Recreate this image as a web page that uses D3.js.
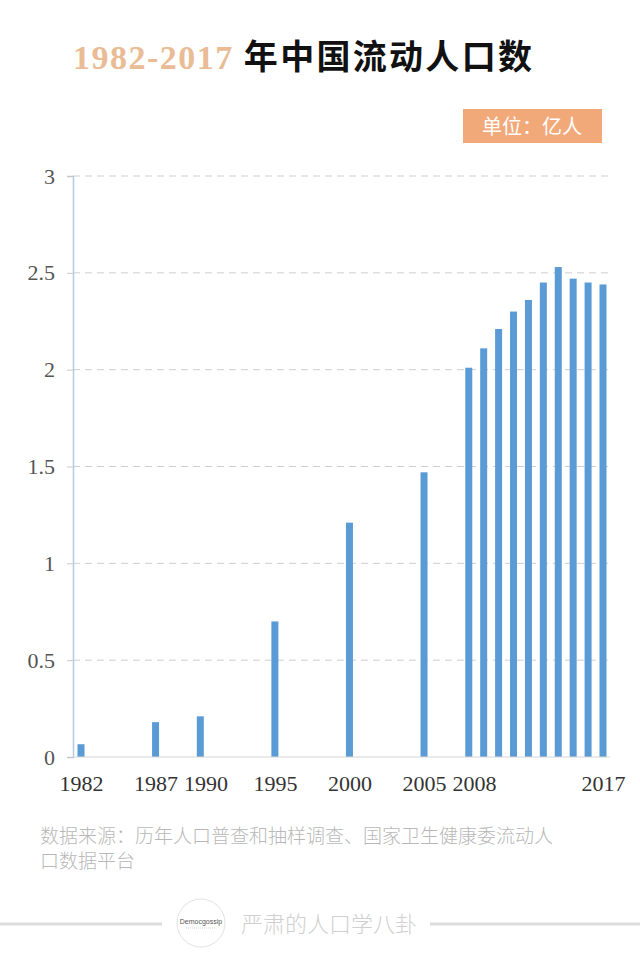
<!DOCTYPE html>
<html>
<head>
<meta charset="utf-8">
<script src="https://cdn.jsdelivr.net/npm/d3@7"></script>
<style>
  body { margin: 0; background: #ffffff; }
  svg { display: block; }
</style>
</head>
<body>
<svg></svg>
<script>
// Data
let years = [1982, 1987, 1990, 1995, 2000, 2005, 2008, 2009, 2010, 2011, 2012, 2013, 2014, 2015, 2016, 2017];
let values = [0.066, 0.18, 0.21, 0.70, 1.21, 1.47, 2.01, 2.11, 2.21, 2.30, 2.36, 2.45, 2.53, 2.47, 2.45, 2.44];
let yTicks = [0, 0.5, 1, 1.5, 2, 2.5, 3];
let xLabels = [1982, 1987, 1990, 1995, 2000, 2005, 2008, 2017];

let titleYears = "1982-2017";
let titleText = "年中国流动人口数";
let unitText = "单位：亿人";
let sourceLines = ["数据来源：历年人口普查和抽样调查、国家卫生健康委流动人", "口数据平台"];
let brandText = "严肃的人口学八卦";

let width = 640;
let height = 960;

let svg = d3.select("svg").attr("width", width).attr("height", height);

let xScale = d3.scaleLinear().domain([1982, 2017]).range([81, 603]);
let yScale = d3.scaleLinear().domain([0, 3]).range([757, 176]);

// Title
let title = svg.append("text")
  .attr("x", 73)
  .attr("y", 69);
title.append("tspan")
  .text(titleYears)
  .attr("font-family", "Liberation Serif")
  .attr("font-weight", "bold")
  .attr("font-size", 34)
  .attr("letter-spacing", 1.5)
  .attr("fill", "#e9bc96");
title.append("tspan")
  .text(" " + titleText)
  .attr("font-family", "Noto Sans CJK SC")
  .attr("font-weight", "bold")
  .attr("font-size", 34)
  .attr("letter-spacing", 2.3)
  .attr("fill", "#111111");

// Unit box
svg.append("rect")
  .attr("x", 463).attr("y", 109)
  .attr("width", 139).attr("height", 34)
  .attr("fill", "#f2a97a");
svg.append("text")
  .attr("x", 532).attr("y", 134)
  .attr("text-anchor", "middle")
  .attr("font-family", "Noto Sans CJK SC")
  .attr("font-size", 20)
  .attr("fill", "#ffffff")
  .text(unitText);

// Gridlines
svg.append("g")
  .selectAll("line")
  .data(yTicks.filter((d) => d > 0))
  .enter()
  .append("line")
  .attr("x1", 73)
  .attr("x2", 610)
  .attr("y1", (d) => yScale(d))
  .attr("y2", (d) => yScale(d))
  .attr("stroke", "#cfcfcf")
  .attr("stroke-width", 1)
  .attr("stroke-dasharray", "7,5");

// Bars
let barWidth = 7;
svg.append("g")
  .selectAll("rect")
  .data(values)
  .enter()
  .append("rect")
  .attr("x", (d, i) => xScale(years[i]) - barWidth / 2)
  .attr("y", (d) => yScale(d))
  .attr("width", barWidth)
  .attr("height", (d) => yScale(0) - yScale(d))
  .attr("fill", "#5b9bd5");

// Axes
let yAxis = d3.axisLeft(yScale)
  .tickValues(yTicks)
  .tickFormat((d) => String(d))
  .tickSize(6)
  .tickPadding(12);

let yAxisG = svg.append("g")
  .attr("transform", "translate(73, 0)")
  .call(yAxis);
yAxisG.select(".domain").attr("stroke", "#b9cade").attr("stroke-width", 1.5);
yAxisG.selectAll(".tick line").attr("stroke", "#c8c8c8");
yAxisG.selectAll(".tick text")
  .attr("font-family", "Liberation Serif")
  .attr("font-size", 22)
  .attr("fill", "#555555");

let xAxis = d3.axisBottom(xScale)
  .tickValues(xLabels)
  .tickFormat(d3.format("d"))
  .tickSize(0)
  .tickPadding(18);

let xAxisG = svg.append("g")
  .attr("transform", "translate(0, 757)")
  .call(xAxis);
xAxisG.select(".domain")
  .attr("d", "M73,0H610")
  .attr("stroke", "#d6d6d6")
  .attr("stroke-width", 1.2);
xAxisG.selectAll(".tick text")
  .attr("font-family", "Liberation Serif")
  .attr("font-size", 22)
  .attr("fill", "#333333");

// push crowded labels apart a little
let lastRight = -Infinity;
xAxisG.selectAll(".tick").each(function () {
  let t = d3.select(this).select("text");
  let box = this.getBBox();
  let m = /translate\(([^,]+)/.exec(d3.select(this).attr("transform"));
  let left = +m[1] + box.x;
  let shift = Math.max(0, lastRight + 6 - left);
  t.attr("dx", shift);
  lastRight = left + shift + box.width;
});

// Source
svg.append("g")
  .selectAll("text")
  .data(sourceLines)
  .enter()
  .append("text")
  .attr("x", 40)
  .attr("y", (d, i) => 843 + i * 25)
  .attr("font-family", "Noto Sans CJK SC")
  .attr("font-weight", 300)
  .attr("font-size", 19)
  .attr("fill", "#b8b8b8")
  .text((d) => d);

// Footer brand
let footer = svg.append("g");
footer.append("line")
  .attr("x1", 0).attr("x2", 162)
  .attr("y1", 924).attr("y2", 924)
  .attr("stroke", "#dcdcdc").attr("stroke-width", 3);
footer.append("line")
  .attr("x1", 430).attr("x2", 640)
  .attr("y1", 924).attr("y2", 924)
  .attr("stroke", "#dcdcdc").attr("stroke-width", 3);
footer.append("circle")
  .attr("cx", 201).attr("cy", 923).attr("r", 24)
  .attr("fill", "#ffffff")
  .attr("stroke", "#e2e2e2").attr("stroke-width", 1);
footer.append("text")
  .attr("x", 201).attr("y", 924)
  .attr("text-anchor", "middle")
  .attr("font-family", "Liberation Sans")
  .attr("font-size", 7)
  .attr("fill", "#555555")
  .text("Democgossip");
footer.append("line")
  .attr("x1", 186).attr("x2", 216)
  .attr("y1", 928).attr("y2", 928)
  .attr("stroke", "#bbbbbb").attr("stroke-width", 0.6)
  .attr("stroke-dasharray", "1,1");
footer.append("text")
  .attr("x", 241).attr("y", 932)
  .attr("font-family", "Noto Sans CJK SC")
  .attr("font-weight", 300)
  .attr("font-size", 22)
  .attr("fill", "#d0d0d0")
  .text(brandText);
</script>
</body>
</html>
